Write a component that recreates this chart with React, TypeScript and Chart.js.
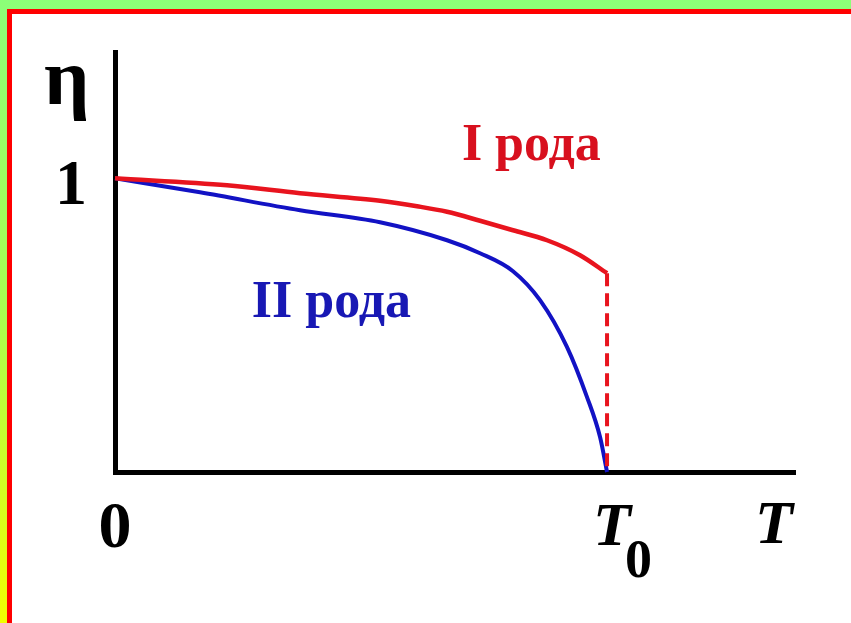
import React, { useEffect, useRef } from "react";
import { Chart, registerables } from "chart.js";

Chart.register(...registerables);

// T relative to T0 (T0 = 1), η relative to η(0) = 1
const redT = [0, 0.2276, 0.376, 0.5386, 0.6138, 0.6748, 0.7419, 0.8089, 0.878, 0.9451, 1.0];
const redEta = [1.0, 0.9762, 0.949, 0.9235, 0.9048, 0.8861, 0.8554, 0.8231, 0.7891, 0.7381, 0.6769];

const blueT = [0, 0.1728, 0.376, 0.5386, 0.6748, 0.7419, 0.8089, 0.8638, 0.9187, 0.9593, 0.9858, 1.0];
const blueEta = [1.0, 0.9524, 0.8912, 0.8503, 0.7891, 0.7449, 0.6837, 0.585, 0.4252, 0.2551, 0.119, 0];

const jumpT = [1.0, 1.0];
const jumpEta = [0.6769, 0];

const xMax = 1.382;
const yMax = 1.43;

const labelFirst = "I рода";
const labelSecond = "II рода";
const labelFirstPos = { x: 0.705, y: 1.061 };
const labelSecondPos = { x: 0.278, y: 0.527 };

const RED = "#e8141e";
const BLUE = "#1212c4";

const textPlugin = {
  id: "textPlugin",
  afterDraw(chart: any) {
    const ctx = chart.ctx;
    const xs = chart.scales.x;
    const ys = chart.scales.y;
    const ca = chart.chartArea;
    ctx.save();
    ctx.textBaseline = "alphabetic";
    ctx.fillStyle = "#000";
    // eta
    ctx.font = "bold 80px 'Liberation Serif'";
    ctx.textAlign = "left";
    ctx.fillText("η", ca.left - 71, ca.top + 52);
    // 1
    ctx.font = "bold 64px 'Liberation Serif'";
    ctx.textAlign = "center";
    ctx.fillText("1", ca.left - 44, ys.getPixelForValue(1) + 26);
    // 0
    ctx.font = "bold 66px 'Liberation Serif'";
    ctx.fillText("0", xs.getPixelForValue(0), ca.bottom + 75);
    // T0
    ctx.textAlign = "left";
    ctx.font = "italic bold 62px 'Liberation Serif'";
    const t0 = xs.getPixelForValue(1);
    ctx.fillText("T", t0 - 14, ca.bottom + 73);
    ctx.font = "bold 54px 'Liberation Serif'";
    ctx.fillText("0", t0 + 18, ca.bottom + 105);
    // T
    ctx.font = "italic bold 62px 'Liberation Serif'";
    ctx.fillText("T", ca.right - 40, ca.bottom + 71);
    // curve labels
    ctx.font = "bold 52px 'Liberation Serif'";
    ctx.fillStyle = "#d8101e";
    ctx.fillText(labelFirst, xs.getPixelForValue(labelFirstPos.x), ys.getPixelForValue(labelFirstPos.y));
    ctx.fillStyle = "#1818b4";
    ctx.fillText(labelSecond, xs.getPixelForValue(labelSecondPos.x), ys.getPixelForValue(labelSecondPos.y));
    ctx.restore();
  },
};

export default function App() {
  const ref = useRef<HTMLCanvasElement>(null);
  useEffect(() => {
    if (!ref.current) return;
    const zip = (a: number[], b: number[]) => a.map((v, i) => ({ x: v, y: b[i] }));
    const chart = new Chart(ref.current, {
      type: "line",
      data: {
        datasets: [
          {
            data: zip(jumpT, jumpEta),
            borderColor: RED,
            borderWidth: 4,
            borderDash: [13, 7],
            pointRadius: 0,
            tension: 0,
            clip: false as any,
          },
          {
            data: zip(redT, redEta),
            borderColor: RED,
            borderWidth: 4.5,
            pointRadius: 0,
            cubicInterpolationMode: "monotone",
            clip: false as any,
          },
          {
            data: zip(blueT, blueEta),
            borderColor: BLUE,
            borderWidth: 4,
            pointRadius: 0,
            cubicInterpolationMode: "monotone",
            clip: false as any,
          },
        ],
      },
      options: {
        animation: false,
        responsive: false,
        events: [],
        layout: { padding: { left: 115, top: 52, right: 56, bottom: 151 } },
        plugins: { legend: { display: false }, tooltip: { enabled: false } },
        scales: {
          x: {
            type: "linear",
            min: 0,
            max: xMax,
            ticks: { display: false },
            grid: { display: false, drawTicks: false },
            border: { display: true, color: "#000", width: 5 },
          },
          y: {
            type: "linear",
            min: 0,
            max: yMax,
            ticks: { display: false },
            grid: { display: false, drawTicks: false },
            border: { display: true, color: "#000", width: 5 },
          },
        },
      },
      plugins: [textPlugin],
    });
    return () => chart.destroy();
  }, []);

  return (
    <div
      style={{
        position: "absolute",
        left: 0,
        top: 0,
        width: 851,
        height: 623,
        overflow: "hidden",
        background: "linear-gradient(to bottom, #8cff78 0%, #a8ff50 50%, #f2ff00 100%)",
      }}
    >
      <div
        style={{
          position: "absolute",
          left: 7,
          top: 9,
          width: 851,
          height: 623,
          background: "#ff0000",
        }}
      />
      <div
        style={{
          position: "absolute",
          left: 12,
          top: 14,
          width: 851,
          height: 623,
          background: "#ffffff",
        }}
      />
      <canvas
        ref={ref}
        width={851}
        height={623}
        style={{ position: "absolute", left: 0, top: 0, width: 851, height: 623 }}
      />
    </div>
  );
}
